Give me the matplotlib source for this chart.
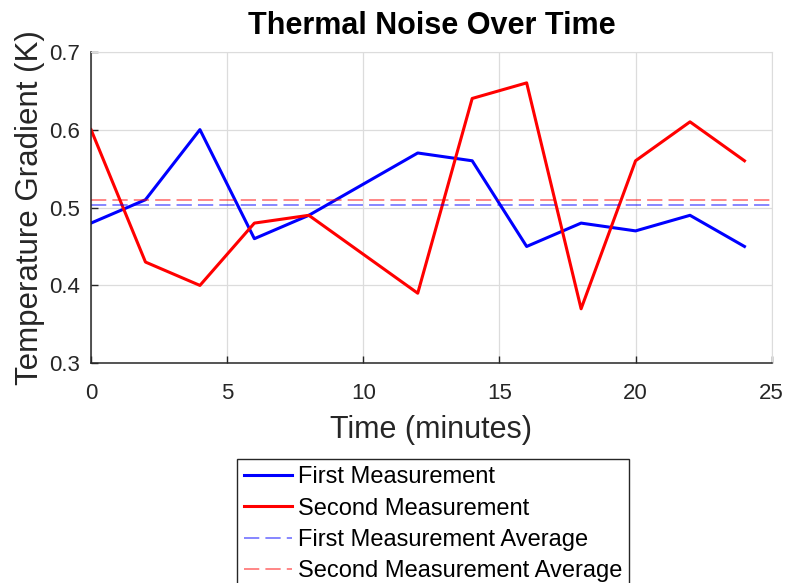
import numpy as np
import matplotlib
matplotlib.use("Agg")
from matplotlib import pyplot as plt

# data
time_min = [0, 2, 4, 6, 8, 10, 12, 14, 16, 18, 20, 22, 24]
first_meas = [0.48, 0.51, 0.60, 0.46, 0.49, 0.53, 0.57, 0.56, 0.45, 0.48, 0.47, 0.49, 0.45]
second_meas = [0.60, 0.43, 0.40, 0.48, 0.49, 0.44, 0.39, 0.64, 0.66, 0.37, 0.56, 0.61, 0.56]

x_ticks = [0, 5, 10, 15, 20, 25]
y_ticks = [0.3, 0.4, 0.5, 0.6, 0.7]

plt.rcParams['font.family'] = ['Liberation Sans', 'DejaVu Sans']

fig = plt.figure(figsize=(7.88, 5.83), dpi=100)
ax = fig.add_axes([0.1155, 0.3768, 0.8638, 0.5345])

ax.plot(time_min, first_meas, color='#0000ff', lw=2.2, label='First Measurement')
ax.plot(time_min, second_meas, color='#ff0000', lw=2.2, label='Second Measurement')
ax.axhline(np.mean(first_meas), color='#0000ff', alpha=0.6, lw=1.1,
           ls=(0, (10, 4)), label='First Measurement Average')
ax.axhline(np.mean(second_meas), color='#ff0000', alpha=0.6, lw=1.1,
           ls=(0, (10, 4)), label='Second Measurement Average')

ax.set_xlim(0, 25)
ax.set_ylim(0.3, 0.7)
ax.set_xticks(x_ticks)
ax.set_yticks(y_ticks)
ax.set_yticklabels([f"{v:.1f}" for v in y_ticks])
ax.grid(True, color='#dcdcdc', lw=0.9)
ax.set_axisbelow(True)
ax.tick_params(direction='in', labelsize=16, colors='#262626', length=5, width=1)
ax.tick_params(axis='x', pad=14)
ax.tick_params(axis='y', pad=8)
for s in ['top', 'right']:
    ax.spines[s].set_color('#dcdcdc')
for s in ['left', 'bottom']:
    ax.spines[s].set_color('#262626')
    ax.spines[s].set_linewidth(1.1)

ax.set_title('Thermal Noise Over Time', fontsize=22, fontweight='bold', pad=13)
ax.set_xlabel('Time (minutes)', fontsize=22, color='#262626', labelpad=8)
ax.set_ylabel('Temperature Gradient (K)', fontsize=22.5, color='#262626', labelpad=3)

leg = fig.legend(loc='upper left', bbox_to_anchor=(237 / 788, 1 - 459 / 583),
                 fontsize=17, fancybox=False, edgecolor='#262626',
                 framealpha=1, borderpad=0.3, labelspacing=0.4,
                 handlelength=2.05, handletextpad=0.22, borderaxespad=0)
leg.get_frame().set_linewidth(1.0)

fig.savefig('out.png', dpi=100)
